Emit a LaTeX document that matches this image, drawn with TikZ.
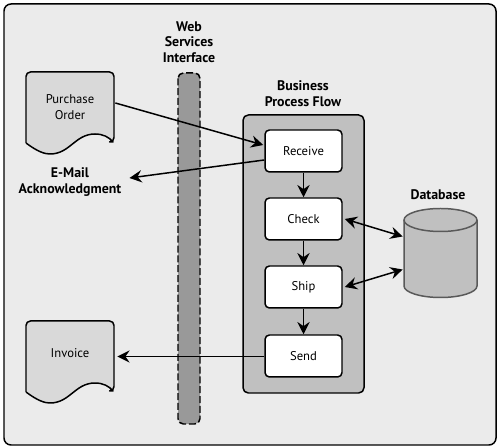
\documentclass[tikz,border=0pt]{standalone}
\usepackage{fontspec}
\setmainfont{PT Sans}
\usetikzlibrary{arrows.meta}
\definecolor{panelgray}{HTML}{EBEBEB}
\definecolor{bargray}{HTML}{999999}
\definecolor{flowgray}{HTML}{C0C0C0}
\definecolor{sheetgray}{HTML}{D9D9D9}
\tikzset{
	heading/.style={font=\fontsize{7.9}{8.9}\selectfont\bfseries, align=center},
	stepbox/.style={draw, fill=white, line width=0.85pt, rounded corners=2.5pt, minimum width=1.54cm, minimum height=0.84cm, font=\fontsize{7.2}{8.9}\selectfont},
	sheet/.style={minimum width=1.76cm, minimum height=1.2cm, align=center, font=\fontsize{7.2}{8.9}\selectfont},
	drum/.style={draw=black!65, line width=0.85pt, fill=flowgray},
	link/.style={->, line width=0.85pt}
}
\newcommand{\docsheet}[1]{
	\draw[line width=0.85pt, fill=sheetgray, rounded corners=2.5pt, shift={(0,#1)}]
	(26,143) -- (26,72) -- (114,72) -- (114,142) [sharp corners] -- (113,142)
	.. controls (109,137) and (103,134) .. (95,134)
	.. controls (75,134) and (70,154) .. (50,154)
	.. controls (45,154) and (38,152) .. (26,143);
}
\begin{document}
\begin{tikzpicture}[x=0.02cm, y=-0.02cm, line join=round, >={Stealth[length=7pt,width=7pt,inset=2.4pt]}]
	\useasboundingbox (0,0) rectangle (500,448);
	% Panel
	\draw[line width=0.85pt, fill=panelgray, rounded corners=4pt] (4,4) rectangle (496,445);
	% Web services bar
	\draw[line width=0.85pt, fill=bargray, rounded corners=3pt, dash pattern=on 4pt off 1.6pt] (178,73) rectangle (200,424);
	% Flow container
	\draw[line width=0.85pt, fill=flowgray, rounded corners=3pt] (243,115) rectangle (364,393);
	% Documents
	\docsheet{0}
	\docsheet{249}
	\node[sheet] (order) at (70,107) {Purchase\\Order};
	\node[sheet] (invoice) at (70,353) {Invoice};
	% Steps
	\node[stepbox] (receive) at (303.5,151) {Receive};
	\node[stepbox] (check) at (303.5,219) {Check};
	\node[stepbox] (ship) at (303.5,287) {Ship};
	\node[stepbox] (send) at (303.5,356) {Send};
	% Database
	\draw[drum] (404,220) -- (404,286) arc[start angle=180, end angle=0, x radius=36.5, y radius=11.5] -- (477,220);
	\draw[drum] (440.5,220) ellipse[x radius=36.5, y radius=11.5];
	\node[minimum width=1.46cm, minimum height=1.78cm] (db) at (440.5,252.5) {};
	% Headings
	\node[heading] (web) at (189,42) {Web\\Services\\Interface};
	\node[heading] (flow) at (303,93.5) {Business\\Process Flow};
	\node[heading] (dbtitle) at (438,195) {Database};
	\node[heading] (mail) at (70,182) {E-Mail\\Acknowledgment};
	% Links
	\draw[link] ([shift={(1,-4)}]order.east) -- ([shift={(-1,-6)}]receive.west);
	\draw[link] ([shift={(0,9)}]receive.west) -- ([shift={(2,-4)}]mail.east);
	\draw[link] (receive) -- (check);
	\draw[link] (check) -- (ship);
	\draw[link] (ship) -- (send);
	\draw[link] ([shift={(0,0.5)}]send.west) -- ([shift={(3,3.5)}]invoice.east);
	\draw[link, <->] ([shift={(2,0)}]check.east) -- ([shift={(-1,-16)}]db.west);
	\draw[link, <->] ([shift={(2,0)}]ship.east) -- ([shift={(-1,17)}]db.west);
\end{tikzpicture}
\end{document}
